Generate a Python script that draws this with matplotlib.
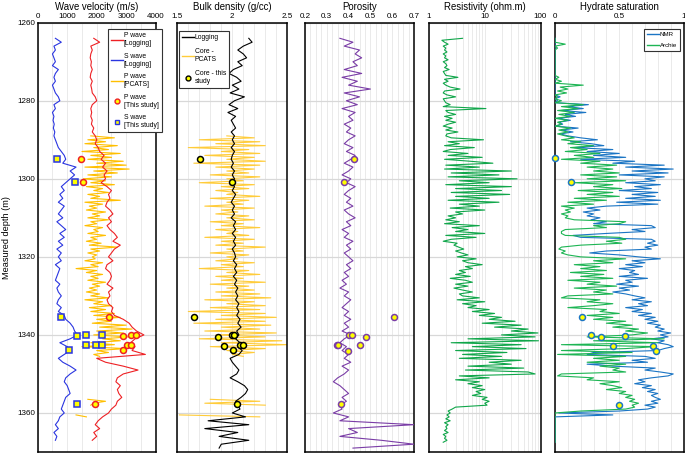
import numpy as np
import matplotlib
matplotlib.use("Agg")
import matplotlib.pyplot as plt
from matplotlib.lines import Line2D
from matplotlib.ticker import FixedLocator, NullFormatter, FuncFormatter

plt.rcParams['font.family'] = ['Liberation Sans', 'DejaVu Sans']

# ---------------- data ----------------
log_depth = np.arange(1264, 1368, 1.0)          # 1264..1367
vp_log = [1900, 2100, 1800, 1850, 1800, 1780, 1820, 1800, 1850, 1800,
          1780, 1850, 1800, 1830, 1850, 1950, 2000, 1850, 1800, 1830,
          1800, 1850, 1820, 1900, 1850, 1950, 2000, 1950, 2050, 2100,
          2250, 2150, 2300, 2200, 2350, 2250, 2300, 2150, 2350, 2500,
          2400, 2450, 2350, 2300, 2450, 2550, 2400, 2500, 2350, 2450,
          2600, 2700, 2550, 2800, 2600, 2500, 2400, 2550, 2350, 2300,
          2450, 2500, 2450, 2350, 2550, 2400, 2450, 2350, 2400, 2550,
          2500, 2600, 2900, 3100, 3200, 3350, 3600, 3300, 3150, 3300,
          3200, 3650, 2000, 2300, 2900, 3400, 2900, 2700, 2650, 2800,
          2700, 2750, 2850, 2700, 2650, 2500, 2400, 2200, 2050, 1950,
          2100, 1900, 2000, 1850]
vs_log = [600, 800, 550, 600, 500, 550, 600, 500, 700, 600,
          550, 600, 500, 550, 600, 700, 750, 550, 600, 500,
          550, 520, 560, 530, 580, 550, 600, 650, 700, 800,
          900, 950, 850, 1300, 1100, 1250, 1100, 950, 800, 900,
          750, 850, 700, 900, 800, 700, 850, 650, 800, 950,
          750, 900, 700, 850, 650, 800, 700, 800, 600, 750,
          700, 650, 600, 750, 650, 700, 800, 700, 650, 800,
          700, 900, 950, 1100, 1200, 1250, 1350, 1100, 750, 1000,
          1100, 900, 700, 850, 1100, 1300, 1100, 950, 900, 1000,
          1050, 1100, 950, 900, 850, 800, 900, 750, 700, 600,
          700, 550, 650, 600]

pcats_depth = np.arange(1289, 1361.5, 0.5)
nan = np.nan
vp_pcats = [1800, 2600, 1700, 2300, 1600, 2700, 1900, 2400, 1500, 2800,
            1800, 2500, 1700, 2900, 2000, 3000, 1600, 3100, 1900, 2700,
            1700, 2500, 1550, 2300, 1800, 2600, 1650, 2200, 1900, 2400,
            1700, 2100, 1800, 2800, 1600, 2200, 1750, 2000, 1650, 2300,
            1850, 2100, 1700, 2400, 1800, 2000, 1600, 2200, 1900, 2050,
            1700, 2300, 1800, 2000, 1650, 2150, 1750, 2700, 1800, 2100,
            1700, 2000, 1850, 1950, 1600, 2200, 1800, 2050, 1300, 2000,
            1650, 2200, 1800, 2050, 1700, 2300, 1850, 2100, 1750, 2000,
            1650, 2100, 1800, 2400, 1600, 2200, 1900, 2500, 1750, 2300,
            1800, 2600, 1900, 2800, 2000, 2500, 1850, 3000, 2100, 3200,
            2000, 2900, 1900, 3100, 2200, 2800, 1800, 2600, 1500, 3000,
            2000, 2400, 1900, 2100] + [nan] * 21 + [1700, 2300, 1900, 1800] + [nan] * 4 + [1300, 1650]
rho_pcats = [1.95, 2.20, 1.70, 2.25, 1.85, 2.30, 1.60, 2.15, 1.90, 2.25,
             1.75, 2.20, 1.95, 2.30, 1.65, 2.25, 1.85, 2.20, 1.95, 2.15,
             1.80, 2.25, 1.95, 2.10, 1.70, 2.20, 1.90, 2.15, 1.85, 2.05,
             1.95, 2.25, 1.80, 2.15, 1.95, 2.10, 1.75, 2.20, 1.90, 2.05,
             1.85, 2.15, 1.95, 2.20, 1.80, 2.10, 1.90, 2.25, 1.85, 2.05,
             1.95, 2.15, 1.75, 2.20, 1.90, 2.10, 1.85, 2.30, 1.95, 2.10,
             1.80, 2.15, 1.95, 2.05, 1.85, 2.20, 1.90, 2.10, 1.70, 2.15,
             1.95, 2.25, 1.85, 2.10, 1.90, 2.30, 1.80, 2.15, 1.95, 2.20,
             1.85, 2.25, 1.90, 2.35, 1.75, 2.20, 1.95, 2.30, 1.80, 2.25,
             1.60, 2.30, 1.90, 2.40, 1.85, 2.30, 1.65, 2.35, 1.90, 2.25,
             1.75, 2.40, 1.85, 2.30, 1.70, 2.45, 1.90, 2.50, 1.80, 2.30,
             1.95, 2.20, 2.00, 2.10] + [nan] * 21 + [1.80, 2.25, 1.75, 2.30] + [nan] * 4 + [1.52, 2.25]

# study points (depth, value)
p_pt_depth = [1294.8, 1300.8, 1335.3, 1340.4, 1340.0, 1340.0, 1342.7, 1342.6, 1343.8, 1357.7]
p_pt_val = [1480, 1550, 2430, 2900, 3160, 3330, 3020, 3160, 2900, 1940]
s_pt_depth = [1295.0, 1300.8, 1335.3, 1340.2, 1340.0, 1340.0, 1343.8, 1342.7, 1342.6, 1342.6, 1357.7]
s_pt_val = [665, 1275, 790, 1340, 1630, 2170, 1070, 1650, 1990, 2170, 1330]

dens_depth = np.arange(1264, 1370, 1.0)        # 1264..1369
rho_log = [2.15, 2.18, 2.10, 2.05, 2.10, 2.13, 2.05, 2.09, 2.01, 1.97,
           2.04, 2.08, 2.00, 2.06, 1.98, 2.11, 2.02, 1.97, 2.05, 1.96,
           2.03, 1.99, 2.01, 2.03, 1.99, 2.02, 2.00, 2.02, 1.99, 2.02,
           2.00, 1.99, 2.01, 1.99, 2.02, 2.00, 2.02, 1.99, 2.02, 2.00,
           2.03, 2.01, 1.99, 2.02, 2.00, 2.02, 1.99, 2.03, 2.01, 2.03,
           2.00, 2.03, 2.01, 2.03, 2.00, 2.02, 2.03, 2.01, 2.04, 2.02,
           2.04, 2.01, 2.04, 2.02, 2.05, 2.03, 2.05, 2.03, 2.06, 2.04,
           2.06, 2.04, 2.07, 2.05, 2.08, 2.04, 2.06, 2.03, 2.07, 2.05,
           2.09, 2.06, 1.98, 2.00, 2.03, 2.06, 2.04, 1.98, 2.05, 2.11,
           2.14, 2.12, 2.08, 2.03, 2.05, 2.07, 2.00, 2.12, 1.78, 2.15,
           1.75, 2.05, 1.88, 2.15, 1.90, 1.88]
rho_pt_depth = [1295.0, 1300.8, 1335.5, 1340.6, 1340.0, 1340.0, 1342.8, 1343.9, 1342.7, 1342.7, 1357.7]
rho_pt_val = [1.71, 2.00, 1.655, 1.87, 1.995, 2.015, 1.925, 2.01, 2.07, 2.10, 2.045]

por_log = [0.36, 0.42, 0.38, 0.45, 0.43, 0.46, 0.42, 0.44, 0.38, 0.46,
           0.37, 0.44, 0.40, 0.50, 0.38, 0.45, 0.39, 0.44, 0.37, 0.43,
           0.40, 0.42, 0.38, 0.41, 0.39, 0.43, 0.40, 0.38, 0.42, 0.39,
           0.43, 0.41, 0.38, 0.42, 0.40, 0.37, 0.41, 0.39, 0.43, 0.40,
           0.38, 0.41, 0.39, 0.42, 0.38, 0.40, 0.43, 0.39, 0.41, 0.37,
           0.40, 0.38, 0.42, 0.39, 0.41, 0.38, 0.40, 0.42, 0.39, 0.41,
           0.38, 0.40, 0.37, 0.39, 0.36, 0.40, 0.38, 0.41, 0.39, 0.37,
           0.40, 0.38, 0.41, 0.38, 0.40, 0.37, 0.41, 0.38, 0.36, 0.39,
           0.37, 0.40, 0.38, 0.41, 0.37, 0.40, 0.38, 0.35, 0.33, 0.36,
           0.38, 0.40, 0.37, 0.39, 0.36, 0.37, 0.33, 0.40, 0.36, 0.70,
           0.40, 0.44, 0.36, 0.55, 0.70, 0.42]
por_pt_depth = [1295.0, 1300.8, 1335.5, 1340.0, 1340.0, 1340.6, 1342.7, 1342.7, 1342.7, 1344.0, 1357.7]
por_pt_val = [0.425, 0.38, 0.61, 0.40, 0.414, 0.48, 0.345, 0.353, 0.452, 0.397, 0.365]

sat_depth = np.arange(1264, 1368, 0.5)          # 1264..1367.5
res_log = [4.0, 1.7, 1.9, 2.2, 1.8, 2.0, 1.9, 2.1, 1.8, 2.0,
           1.9, 2.2, 1.8, 2.0, 2.1, 1.9, 2.3, 1.8, 1.9, 2.0,
           3.3, 1.9, 2.2, 1.8, 2.0, 2.4, 3.6, 1.9, 1.8, 2.1,
           3.0, 1.8, 1.9, 2.0, 2.4, 1.8, 10.5, 2.0, 2.2, 3.0,
           1.9, 2.6, 2.0, 3.0, 2.2, 1.8, 2.6, 2.0, 3.3, 2.1,
           2.0, 2.5, 9.5, 2.2, 3.5, 1.9, 6.5, 2.4, 1.8, 5.0,
           2.2, 9.0, 1.9, 5.5, 14, 2.0, 8.0, 1.9, 30, 2.5,
           18, 2.2, 38, 3.5, 12, 2.0, 30, 3.0, 20, 2.5,
           28, 3.0, 12, 2.2, 18, 3.5, 8.0, 2.4, 10, 3.0,
           4.0, 2.2, 3.0, 2.0, 3.5, 1.9, 8.0, 2.6, 5.0, 3.0,
           10, 2.0, 7.0, 2.5, 1.8, 3.2, 2.8, 3.4, 4.2, 3.0,
           3.8, 5.0, 3.2, 7.0, 4.0, 5.0, 9.0, 4.5, 6.0, 3.5,
           4.5, 3.0, 5.5, 2.4, 4.5, 6.0, 3.0, 5.0, 2.8, 4.0,
           6.0, 3.5, 4.0, 8.0, 3.2, 10, 4.0, 7.0, 5.0, 12,
           6.0, 15, 8.0, 20, 12, 35, 9.0, 45, 15, 60,
           30, 90, 20, 80, 5.0, 92, 2.5, 45, 6.0, 55,
           3.0, 25, 4.0, 20, 3.5, 45, 12, 30, 5.0, 50,
           4.5, 60, 80, 3.5, 12, 3.0, 8.0, 5.0, 9.0, 6.0,
           10, 7.0, 8.5, 6.0, 11, 9.0, 12, 10, 11, 3.0,
           2.6, 2.2, 2.4, 2.1, 2.3, 2.0, 2.4, 1.9, 2.2, 2.0,
           2.1, 1.9, 2.2, 1.8, 2.0, 1.9, 2.1, 1.8]
nmr_sat = [0.0] * 30 + [
           0.04, 0.0, 0.02, 0.0, 0.26, 0.10, 0.22, 0.05, 0.24, 0.08,
           0.16, 0.02, 0.12, 0.03, 0.06, 0.0, 0.18, 0.05, 0.14, 0.04,
           0.10, 0.20, 0.33, 0.12, 0.28, 0.38, 0.15, 0.45, 0.25, 0.50,
           0.30, 0.55, 0.20, 0.62, 0.45, 0.85, 0.55, 0.92, 0.60, 0.88,
           0.50, 0.85, 0.70, 0.78, 0.55, 0.82, 0.62, 0.75, 0.50, 0.80,
           0.60, 0.78, 0.55, 0.82, 0.48, 0.80, 0.40, 0.25, 0.35, 0.22,
           0.30, 0.25, 0.35, 0.28, 0.40, 0.30, 0.75, 0.78, 0.60, 0.70,
           0.40, 0.14, 0.20, 0.75, 0.78, 0.72, 0.80, 0.70, 0.75, 0.40,
           0.27, 0.50, 0.65, 0.82, 0.60, 0.70, 0.55, 0.68, 0.50, 0.62,
           0.58, 0.65, 0.50, 0.72, 0.55, 0.60, 0.48, 0.65, 0.50, 0.58,
           0.45, 0.55, 0.62, 0.70, 0.60, 0.75, 0.65, 0.72, 0.55, 0.68,
           0.60, 0.75, 0.65, 0.78, 0.70, 0.80, 0.72, 0.82, 0.78, 0.85,
           0.80, 0.90, 0.82, 0.88, 0.75, 0.85, 0.80, 0.88, 0.92, 0.85,
           0.80, 0.30, 0.25, 0.70, 0.78, 0.60, 0.72, 0.25, 0.45, 0.78,
           0.70, 0.82, 0.92, 0.88, 0.75, 0.65, 0.70, 0.62, 0.75, 0.68,
           0.78, 0.72, 0.80, 0.75, 0.78, 0.82, 0.75, 0.80, 0.70, 0.78,
           0.72, 0.50, 0.03, 0.45, 0.0, 0.0, 0.0, 0.0, 0.0, 0.0] + [0.0] * 8
archie_sat = [0.0, 0.0, 0.0, 0.08, 0.0, 0.02, 0.0, 0.0, 0.0, 0.0,
              0.0, 0.0, 0.0, 0.0, 0.0, 0.0, 0.0, 0.0, 0.0, 0.0,
              0.03, 0.0, 0.05, 0.0, 0.22, 0.04, 0.10, 0.02, 0.09, 0.0,
              0.02, 0.0, 0.05, 0.0, 0.22, 0.05, 0.18, 0.02, 0.15, 0.03,
              0.12, 0.0, 0.10, 0.02, 0.05, 0.0, 0.12, 0.03, 0.10, 0.02,
              0.08, 0.15, 0.05, 0.20, 0.10, 0.30, 0.12, 0.25, 0.08, 0.35,
              0.15, 0.30, 0.05, 0.35, 0.20, 0.48, 0.25, 0.45, 0.30, 0.50,
              0.20, 0.48, 0.25, 0.55, 0.15, 0.45, 0.30, 0.52, 0.18, 0.45,
              0.25, 0.50, 0.15, 0.40, 0.10, 0.30, 0.05, 0.15, 0.08, 0.12,
              0.05, 0.10, 0.08, 0.15, 0.55, 0.50, 0.30, 0.40, 0.08, 0.05,
              0.05, 0.08, 0.50, 0.55, 0.40, 0.52, 0.20, 0.05, 0.03, 0.08,
              0.05, 0.10, 0.20, 0.55, 0.30, 0.45, 0.15, 0.35, 0.20, 0.40,
              0.12, 0.38, 0.20, 0.45, 0.10, 0.35, 0.25, 0.48, 0.15, 0.40,
              0.30, 0.45, 0.10, 0.05, 0.35, 0.25, 0.45, 0.30, 0.10, 0.40,
              0.35, 0.50, 0.25, 0.45, 0.30, 0.55, 0.40, 0.60, 0.45, 0.65,
              0.55, 0.72, 0.60, 0.25, 0.85, 0.30, 0.80, 0.05, 0.78, 0.55,
              0.05, 0.60, 0.02, 0.55, 0.30, 0.50, 0.25, 0.55, 0.35, 0.50,
              0.45, 0.55, 0.05, 0.02, 0.30, 0.25, 0.50, 0.35, 0.45, 0.52,
              0.40, 0.55, 0.50, 0.60, 0.55, 0.62, 0.58, 0.65, 0.60, 0.62,
              0.55, 0.20, 0.0, 0.0, 0.0, 0.0, 0.0, 0.0, 0.0, 0.0,
              0.0, 0.0, 0.0, 0.0, 0.0, 0.0, 0.0, 0.0]
sat_pt_depth = [1294.7, 1300.9, 1335.4, 1340.0, 1340.5, 1340.2, 1342.9, 1342.8, 1344.1, 1357.9]
sat_pt_val = [0.0, 0.121, 0.207, 0.284, 0.356, 0.548, 0.452, 0.76, 0.788, 0.496]

titles = ["Wave velocity (m/s)", "Bulk density (g/cc)", "Porosity",
          "Resistivity (ohm.m)", "Hydrate saturation"]
depth_ticks = [1260, 1280, 1300, 1320, 1340, 1360]

# ---------------- figure ----------------
W, H = 685, 453
fig = plt.figure(figsize=(W / 100, H / 100), dpi=100)
top_px, bot_px = 22.7, 452.0
panels_px = [(37.7, 155.7), (177.3, 287.3), (305.0, 414.0), (429.0, 540.5), (555.0, 683.5)]
axes = []
for (l, r) in panels_px:
    ax = fig.add_axes([l / W, 1 - bot_px / H, (r - l) / W, (bot_px - top_px) / H])
    axes.append(ax)

C_P = '#ee2024'
C_S = '#2a35e0'
C_PC = '#ffbf00'
C_RC = '#ffcc3a'
C_POR = '#7a3da6'
C_RES = '#10a64a'
C_NMR = '#1b75c4'
C_ARC = '#1db554'
YEL = '#ffff00'
GRID_V = '#e6e6e6'
GRID_H = '#d8d8d8'

for i, ax in enumerate(axes):
    ax.set_ylim(1370, 1260)
    ax.yaxis.set_major_locator(FixedLocator(depth_ticks))
    ax.tick_params(axis='both', which='both', length=0, labelsize=5.8, pad=2,
                   top=False, labeltop=True, bottom=False, labelbottom=False)
    if i > 0:
        ax.tick_params(axis='y', labelleft=False)
    ax.set_axisbelow(True)
    ax.grid(True, which='both', axis='x', color=GRID_V, lw=0.6)
    ax.grid(True, which='major', axis='y', color=GRID_H, lw=0.9)
    for sp in ax.spines.values():
        sp.set_linewidth(1.1)
        sp.set_color('black')
    ax.set_title(titles[i], fontsize=6.9, pad=9)

lw = 0.8
leg_kw = dict(bbox_transform=fig.transFigure, borderaxespad=0, handletextpad=0.15,
              borderpad=0.45, fancybox=False, framealpha=1, edgecolor='#333333')

# panel 1
ax = axes[0]
ax.set_xlim(0, 4000)
ax.set_xticks([0, 1000, 2000, 3000, 4000])
ax.set_xticks(np.arange(500, 4000, 500), minor=True)
ax.plot(vp_pcats, pcats_depth, color=C_PC, lw=lw, zorder=2)
ax.plot(vp_log, log_depth, color=C_P, lw=lw, zorder=3)
ax.plot(vs_log, log_depth, color=C_S, lw=lw, zorder=3)
ax.plot(p_pt_val, p_pt_depth, 'o', ms=4.3, mfc=YEL, mec=C_P, mew=1.1, zorder=5)
ax.plot(s_pt_val, s_pt_depth, 's', ms=4.3, mfc=YEL, mec=C_S, mew=1.1, zorder=5)
ax.set_ylabel("Measured depth (m)", fontsize=6.6, labelpad=4)
h1 = [Line2D([], [], color=C_P, lw=1.0), Line2D([], [], color=C_S, lw=1.0),
      Line2D([], [], color=C_PC, lw=1.0),
      Line2D([], [], ls='none', marker='o', ms=3.5, mfc=YEL, mec=C_P, mew=1.0),
      Line2D([], [], ls='none', marker='s', ms=3.5, mfc=YEL, mec=C_S, mew=1.0)]
l1 = ["P wave\n[Logging]", "S wave\n[Logging]", "P wave\n[PCATS]", "P wave\n[This study]", "S wave\n[This study]"]
leg = ax.legend(h1, l1, loc='upper left', bbox_to_anchor=(108.3 / W, 1 - 29.3 / H),
                fontsize=4.9, handlelength=1.7, labelspacing=0.8, **leg_kw)
leg.get_frame().set_linewidth(0.8)

# panel 2
ax = axes[1]
ax.set_xlim(1.5, 2.5)
ax.set_xticks([1.5, 2.0, 2.5])
ax.xaxis.set_major_formatter(FuncFormatter(lambda v, p: f"{v:g}"))
ax.set_xticks(np.arange(1.6, 2.45, 0.1), minor=True)
ax.plot(rho_pcats, pcats_depth, color=C_RC, lw=lw, zorder=2)
ax.plot(rho_log, dens_depth, color='black', lw=lw, zorder=3)
ax.plot(rho_pt_val, rho_pt_depth, 'o', ms=4.3, mfc=YEL, mec='black', mew=1.1, zorder=5)
h2 = [Line2D([], [], color='black', lw=1.0), Line2D([], [], color=C_RC, lw=1.0),
      Line2D([], [], ls='none', marker='o', ms=3.5, mfc=YEL, mec='black', mew=1.0)]
l2 = ["Logging", "Core -\nPCATS", "Core - this\nstudy"]
leg = ax.legend(h2, l2, loc='upper left', bbox_to_anchor=(179.3 / W, 1 - 31 / H),
                fontsize=4.9, handlelength=1.7, labelspacing=1.05, **leg_kw)
leg.get_frame().set_linewidth(0.8)

# panel 3
ax = axes[2]
ax.set_xlim(0.2, 0.7)
ax.set_xticks([0.2, 0.3, 0.4, 0.5, 0.6, 0.7])
ax.set_xticks(np.arange(0.225, 0.7, 0.025), minor=True)
ax.plot(por_log, dens_depth, color=C_POR, lw=lw, zorder=3)
ax.plot(por_pt_val, por_pt_depth, 'o', ms=4.3, mfc=YEL, mec=C_POR, mew=1.1, zorder=5)

# panel 4
ax = axes[3]
ax.set_xscale('log')
ax.set_xlim(1, 100)
ax.set_xticks([1, 10, 100])
ax.xaxis.set_major_formatter(FuncFormatter(lambda v, p: f"{v:g}"))
ax.xaxis.set_minor_locator(FixedLocator([k * 10 ** e for e in (0, 1) for k in range(2, 10)]))
ax.xaxis.set_minor_formatter(NullFormatter())
ax.plot(res_log, sat_depth, color=C_RES, lw=lw, zorder=3)

# panel 5
ax = axes[4]
ax.set_xlim(0, 1)
ax.set_xticks([0, 0.5, 1])
ax.xaxis.set_major_formatter(FuncFormatter(lambda v, p: f"{v:g}"))
ax.set_xticks(np.arange(0.1, 1.0, 0.1), minor=True)
ax.plot(nmr_sat, sat_depth, color=C_NMR, lw=lw, zorder=3)
ax.plot(archie_sat, sat_depth, color=C_ARC, lw=lw, zorder=3)
ax.plot(sat_pt_val, sat_pt_depth, 'o', ms=4.3, mfc=YEL, mec=C_NMR, mew=1.1, zorder=5, clip_on=False)
h5 = [Line2D([], [], color=C_NMR, lw=1.0), Line2D([], [], color=C_ARC, lw=1.0)]
leg = ax.legend(h5, ["NMR", "Archie"], loc='upper right', bbox_to_anchor=(680 / W, 1 - 29.3 / H),
                fontsize=4.4, handlelength=2.0, labelspacing=0.9, **leg_kw)
leg.get_frame().set_linewidth(0.8)

fig.savefig("out.png", dpi=100)
